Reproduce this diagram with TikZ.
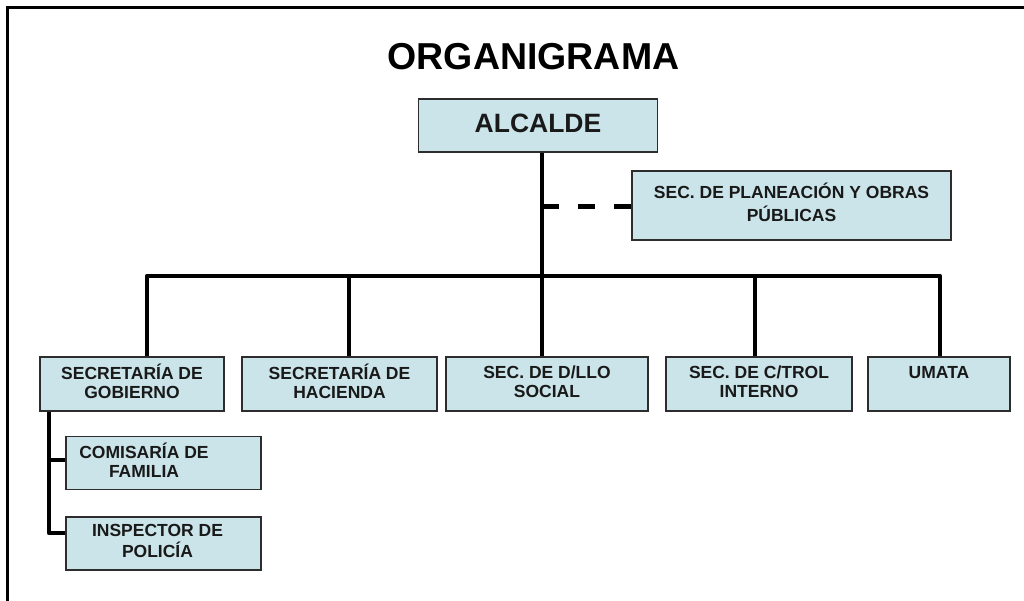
\documentclass[tikz,border=0pt]{standalone}
\usepackage{fontspec}
\setmainfont{Liberation Sans}
\definecolor{boxfill}{RGB}{202,228,233}
\definecolor{boxline}{RGB}{45,45,45}
\definecolor{txt}{RGB}{25,25,25}
\newcommand\tl[1]{\begin{tabular}{@{}c@{}}#1\end{tabular}}
\begin{document}
\begin{tikzpicture}[x=1pt,y=-1pt,
  box/.style={draw=boxline, line width=1.3pt, fill=boxfill, inner sep=0pt,
    align=center, text=txt, font=\bfseries\fontsize{17.5}{19}\selectfont},
  conn/.style={line width=4.5pt, line join=round},
  frameline/.style={line width=2.5pt}
]
\useasboundingbox (0,0) rectangle (1024,601);
% frame
\draw[frameline] (7.5,605) -- (7.5,7.5) -- (1030,7.5);

% title
\node[anchor=base, font=\bfseries\fontsize{37.5}{42}\selectfont, text=black] (title) at (533.5,69.5) {ORGANIGRAMA};

% boxes
\node[box, minimum width=239pt, minimum height=53pt, font=\bfseries\fontsize{26.5}{30}\selectfont] (alc) at (538,125.5) {\raisebox{4.5pt}{ALCALDE}};
\node[box, minimum width=319pt, minimum height=69pt, font=\bfseries\fontsize{17.5}{22}\selectfont] (plan) at (791.5,205.5) {\raisebox{6pt}{\tl{SEC. DE PLANEACIÓN Y OBRAS\\PÚBLICAS}}};

\node[box, minimum width=184pt, minimum height=54pt] (g1) at (132,384) {\tl{SECRETARÍA DE\\GOBIERNO}};
\node[box, minimum width=195pt, minimum height=54pt] (g2) at (339.5,384) {\tl{SECRETARÍA DE\\HACIENDA}};
\node[box, minimum width=202pt, minimum height=54pt] (g3) at (547,384) {\tl{SEC. DE D/LLO\\SOCIAL}};
\node[box, minimum width=186pt, minimum height=54pt] (g4) at (759,384) {\tl{SEC. DE C/TROL\\INTERNO}};
\node[box, minimum width=142pt, minimum height=54pt] (g5) at (939,384) {\tl{UMATA\\\mbox{}}};

\node[box, minimum width=195pt, minimum height=53pt] (com) at (163.5,463) {\tl{COMISARÍA DE\\FAMILIA}\hspace{39pt}};
\node[box, minimum width=195pt, minimum height=53pt] (ins) at (163.5,543.5) {\tl{INSPECTOR DE\\POLICÍA}\hspace{12pt}};

% connector coordinates
\coordinate (j) at (542,276);
\coordinate (b1) at (147,276);
\coordinate (b2) at (349,276);
\coordinate (b4) at (755,276);
\coordinate (b5) at (940,276);
\coordinate (d) at (542,207);
\coordinate (s) at (49,0);
\coordinate (sc) at (0,460);
\coordinate (si) at (0,533);

% connectors
\draw[conn] (j |- alc.south) -- (j |- g3.north);
\draw[conn] (b1 |- g1.north) -- (b1) -- (b5) -- (b5 |- g5.north);
\draw[conn] (b2) -- (b2 |- g2.north);
\draw[conn] (b4) -- (b4 |- g4.north);
\draw[line width=5pt, dash pattern=on 17pt off 19pt] (d) -- (d -| plan.west);
\draw[conn] (s |- g1.south) -- (s |- si) -- (si -| ins.west);
\draw[conn] (s |- sc) -- (sc -| com.west);
\end{tikzpicture}
\end{document}
